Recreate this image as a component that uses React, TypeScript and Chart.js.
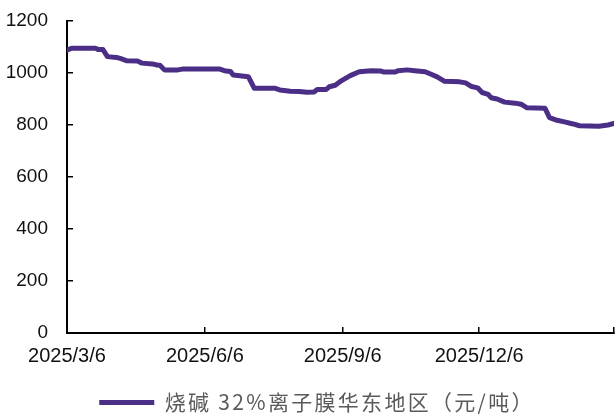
import React, { useEffect, useRef } from "react";
import { Chart, registerables } from "chart.js";

Chart.register(...registerables);

const seriesName = "烧碱 32%离子膜华东地区（元/吨）";
const startDate = "2025-03-06";
const endDate = "2026-03-06";

const dates = [
  "2025-03-06", "2025-03-09", "2025-03-25", "2025-03-27", "2025-03-30", "2025-04-02",
  "2025-04-08", "2025-04-11", "2025-04-15", "2025-04-22", "2025-04-25", "2025-05-02",
  "2025-05-05", "2025-05-07", "2025-05-10", "2025-05-19", "2025-05-22", "2025-06-16",
  "2025-06-19", "2025-06-23", "2025-06-25", "2025-07-05", "2025-07-09", "2025-07-23",
  "2025-07-26", "2025-08-02", "2025-08-08", "2025-08-13", "2025-08-18", "2025-08-20",
  "2025-08-26", "2025-08-28", "2025-09-01", "2025-09-05", "2025-09-11", "2025-09-17",
  "2025-09-25", "2025-10-01", "2025-10-03", "2025-10-11", "2025-10-13", "2025-10-19",
  "2025-10-24", "2025-10-31", "2025-11-04", "2025-11-08", "2025-11-13", "2025-11-23",
  "2025-11-27", "2025-12-01", "2025-12-05", "2025-12-08", "2025-12-12", "2025-12-14",
  "2025-12-18", "2025-12-23", "2025-12-30", "2026-01-03", "2026-01-07", "2026-01-19",
  "2026-01-22", "2026-01-27", "2026-02-01", "2026-02-06", "2026-02-11", "2026-02-24",
  "2026-03-02", "2026-03-06",
];

const prices = [
  1088, 1095, 1095, 1090, 1090, 1063,
  1060, 1055, 1047, 1046, 1038, 1035,
  1031, 1030, 1012, 1012, 1015, 1015,
  1009, 1006, 992, 986, 941, 941,
  935, 930, 929, 926, 927, 937,
  937, 947, 953, 970, 990, 1005,
  1009, 1008, 1004, 1004, 1009, 1012,
  1009, 1005, 995, 985, 968, 966,
  962, 948, 943, 925, 918, 905,
  900, 888, 884, 880, 866, 864,
  828, 818, 812, 805, 797, 795,
  800, 806,
];

const tickDates = ["2025-03-06", "2025-06-06", "2025-09-06", "2025-12-06", "2026-03-06"];
const tickLabels = ["2025/3/6", "2025/6/6", "2025/9/6", "2025/12/6", ""];

const yMin = 0;
const yMax = 1200;
const yStep = 200;

const DAY = 86400000;
const toDay = (s: string) => {
  const [y, m, d] = s.split("-").map(Number);
  return Math.round((Date.UTC(y, m - 1, d) - Date.UTC(2025, 2, 6)) / DAY);
};

const legendSpacing = {
  id: "legendSpacing",
  afterInit(chart: any) {
    const lg = chart.legend;
    if (!lg) return;
    const origFit = lg.fit.bind(lg);
    const origDraw = lg.draw.bind(lg);
    lg.fit = function () {
      const c = chart.ctx;
      c.save();
      c.letterSpacing = "2.3px";
      origFit();
      c.restore();
    };
    lg.draw = function () {
      const c = chart.ctx;
      c.save();
      c.letterSpacing = "2.3px";
      c.translate(10, 0);
      origDraw();
      c.restore();
    };
  },
};

export default function App() {
  const ref = useRef<HTMLCanvasElement | null>(null);

  useEffect(() => {
    if (!ref.current) return;
    const tickDays = tickDates.map(toDay);
    const chart = new Chart(ref.current, {
      type: "line",
      data: {
        datasets: [
          {
            label: seriesName,
            data: dates.map((d, i) => ({ x: toDay(d), y: prices[i] })),
            borderColor: "#4B2E86",
            backgroundColor: "#4B2E86",
            borderWidth: 5,
            borderCapStyle: "round",
            borderJoinStyle: "round",
            pointRadius: 0,
            tension: 0,
          },
        ],
      },
      plugins: [legendSpacing],
      options: {
        responsive: false,
        animation: false,
        events: [],
        layout: { padding: { top: 21, right: 1, left: 0, bottom: -8 } },
        plugins: {
          tooltip: { enabled: false },
          legend: {
            position: "bottom",
            labels: {
              usePointStyle: true,
              pointStyle: "line",
              pointStyleWidth: 55,
              boxHeight: 21,
              padding: 8,
              color: "#5a5a5a",
              font: { family: "'Noto Sans CJK SC'", size: 21 },
            },
          },
        },
        scales: {
          x: {
            type: "linear",
            min: toDay(startDate),
            max: toDay(endDate),
            afterBuildTicks: (scale: any) => {
              scale.ticks = tickDays.map((v) => ({ value: v }));
            },
            afterFit: (scale: any) => {
              scale.height = 51;
              scale.paddingLeft = 0;
              scale.paddingRight = 0;
            },
            grid: {
              display: true,
              drawOnChartArea: false,
              drawTicks: true,
              tickLength: -6,
              color: "#000",
              lineWidth: 1.5,
            },
            border: { display: true, color: "#000", width: 2 },
            ticks: {
              autoSkip: false,
              maxRotation: 0,
              padding: 17,
              color: "#111",
              font: { family: "'Liberation Sans'", size: 20 },
              callback: (v: any) => {
                const i = tickDays.indexOf(Number(v));
                return i >= 0 ? tickLabels[i] : "";
              },
            },
          },
          y: {
            min: yMin,
            max: yMax,
            afterFit: (scale: any) => {
              scale.width = 67;
              scale.paddingTop = 0;
              scale.paddingBottom = 0;
            },
            grid: {
              display: true,
              drawOnChartArea: false,
              drawTicks: true,
              tickLength: -6,
              color: "#000",
              lineWidth: 1.5,
            },
            border: { display: true, color: "#000", width: 2 },
            ticks: {
              stepSize: yStep,
              padding: 25,
              color: "#111",
              font: { family: "'Liberation Sans'", size: 19 },
              callback: (v: any) => String(v),
            },
          },
        },
      },
    } as any);
    return () => chart.destroy();
  }, []);

  return (
    <div style={{ position: "fixed", left: 0, top: 0, width: 615, height: 415, background: "#fff" }}>
      <canvas ref={ref} width={615} height={415} />
    </div>
  );
}
